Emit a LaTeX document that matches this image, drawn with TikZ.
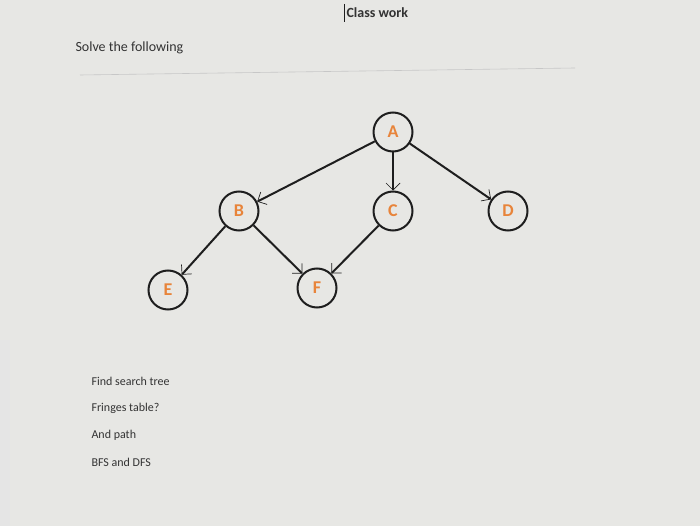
\documentclass[tikz,border=0pt]{standalone}
\usepackage{fontspec}
\setmainfont{Carlito}
\usepackage{tikz}
\usetikzlibrary{arrows.meta}
\definecolor{Screen}{HTML}{E7E7E4}
\definecolor{Ink}{HTML}{1E1E1E}
\definecolor{Label}{HTML}{E8843A}
\definecolor{TextGray}{HTML}{333333}
\tikzset{
  vertex/.style={circle,draw=Ink,fill=Screen,line width=2pt,minimum size=39pt,inner sep=0pt,text=Label,font=\fontsize{18}{18}\selectfont\bfseries},
  edge/.style={draw=Ink,line width=2pt,-{Straight Barb[length=7pt,width=14pt,line width=0.7pt]}},
  note/.style={anchor=west,text=TextGray,font=\fontsize{12}{13}\selectfont}
}

\begin{document}
\begin{tikzpicture}[x=1pt,y=-1pt]
    \fill[Screen] (0,0) rectangle (700,526);
    \useasboundingbox (0,0) rectangle (700,526);
    \fill[black!10] (0,340) rectangle (10,526);
    % header
    \node[anchor=west,font=\fontsize{14}{15}\selectfont\bfseries,text=TextGray] (title) at (343,13) {Class work};
    \draw[Ink,line width=0.9pt] (344,4) -- (344,22);
    \node[note,font=\fontsize{14}{15}\selectfont] (task) at (72,48) {Solve the following};
    \draw[black!22,line width=0.6pt] (80,75) -- (575,68);
    % graph
    \node[vertex] (A) at (393,132) {A};
    \node[vertex] (B) at (239,211) {B};
    \node[vertex] (C) at (393,211) {C};
    \node[vertex] (D) at (508,211) {D};
    \node[vertex] (E) at (168,290) {E};
    \node[vertex] (F) at (317,288) {F};
    \draw[edge] (A) -- (B);
    \draw[edge] (A) -- (C);
    \draw[edge] (A) -- (D);
    \draw[edge] (B) -- (E);
    \draw[edge] (B) -- (F);
    \draw[edge] (C) -- (F);
    % questions
    \node[note] (q1) at (88,381) {Find search tree};
    \node[note] (q2) at (88,408) {Fringes table?};
    \node[note] (q3) at (88,435) {And path};
    \node[note] (q4) at (88,462) {BFS and DFS};
\end{tikzpicture}
\end{document}
